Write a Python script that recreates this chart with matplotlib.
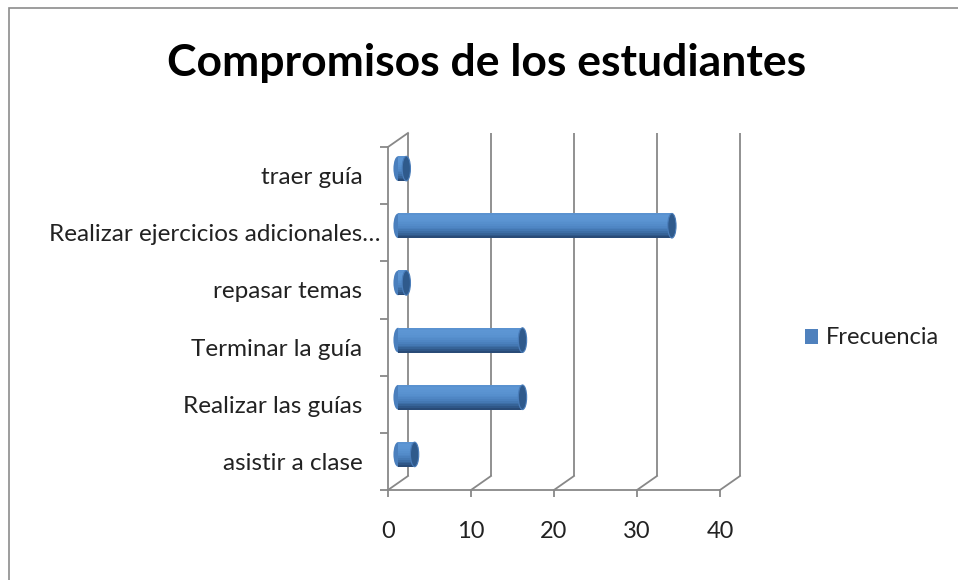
import matplotlib
matplotlib.use("Agg")
import matplotlib.pyplot as plt
import matplotlib.transforms as mtransforms
from matplotlib.patches import Ellipse, Patch, Rectangle
from matplotlib.lines import Line2D
import numpy as np

# ---- data ----
categories = ["asistir a clase", "Realizar las guías", "Terminar la guía",
              "repasar temas", "Realizar ejercicios adicionales…", "traer guía"]
frecuencia = [2, 15, 15, 1, 33, 1]
x_ticks = [0, 10, 20, 30, 40]
series_name = "Frecuencia"
title = "Compromisos de los estudiantes"

plt.rcParams['font.family'] = ['Lato', 'DejaVu Sans']

W, H = 958, 580
fig = plt.figure(figsize=(W / 100, H / 100), dpi=100)
fig.patch.set_facecolor('white')

# border (left & top visible)
fig.add_artist(Rectangle((9 / W, -0.1), 2, 1 - 8 / H + 0.1, transform=fig.transFigure,
                         fill=False, edgecolor='#8c8c8c', lw=1.2))

# front plane of the 3D plot
x0, x1, ytop, ybot = 388, 720, 147, 490
ax = fig.add_axes([x0 / W, 1 - ybot / H, (x1 - x0) / W, (ybot - ytop) / H])
ax.set_xlim(0, 40)
ax.set_ylim(-0.5, len(categories) - 0.5)
ax.patch.set_alpha(0)
for s in ['top', 'right']:
    ax.spines[s].set_visible(False)
grid_col = '#888888'
for s in ['left', 'bottom']:
    ax.spines[s].set_color(grid_col)
    ax.spines[s].set_linewidth(1.3)

DX, DY = 20, 14  # depth offset in pixels
back = mtransforms.offset_copy(ax.transData, fig, x=DX, y=DY, units='dots')
mid = mtransforms.offset_copy(ax.transData, fig, x=DX / 2, y=DY / 2, units='dots')

ylo, yhi = -0.5, len(categories) - 0.5
# back wall gridlines
ax.vlines(x_ticks, ylo, yhi, transform=back, color=grid_col, lw=1.3, clip_on=False)

# floor diagonals and left wall top diagonal (computed through the axes scale)
def diag(xv, yv):
    px, py = ax.transData.transform((xv, yv))
    fig.add_artist(Line2D([px, px + DX], [py, py + DY], transform=mtransforms.IdentityTransform(),
                          color=grid_col, lw=1.3))

for xv in x_ticks:
    diag(xv, ylo)
diag(0, yhi)

# cylinder bars
ypos = np.arange(len(categories))
bar_h = 0.43
body_cols = ['#294b77', '#2f5788', '#366397', '#3d6ea6', '#4478b3', '#4a80bd', '#4f86c4',
             '#538bc9', '#568fcd', '#5992d0', '#5b94d2', '#5c95d3', '#5d96d4', '#5a92d0']
n = len(body_cols)
for yv, v in zip(ypos, frecuencia):
    ax.add_patch(Ellipse((0, yv), 1.1, bar_h, transform=mid, facecolor='#4a7fbd',
                         edgecolor='none', zorder=2.9))
for i in range(n):
    off = -bar_h / 2 + bar_h * (i + 0.5) / n
    ax.barh(ypos + off, frecuencia, height=bar_h / n + 0.006, left=0, color=body_cols[i],
            edgecolor='none', transform=mid, zorder=3)
for yv, v in zip(ypos, frecuencia):
    ax.add_patch(Ellipse((v, yv), 1.0, bar_h, transform=mid, facecolor='#2f5a8c',
                         edgecolor='#4a7dba', lw=0.8, zorder=4))

# ticks
ax.set_xticks(x_ticks)
ax.set_xticklabels([str(t) for t in x_ticks])
ax.tick_params(axis='x', direction='out', length=5, width=1.3, color=grid_col,
               labelsize=17, pad=17, labelcolor='#222222')
ax.set_yticks(ypos)
ax.set_yticklabels(categories)
ax.tick_params(axis='y', which='major', length=0, labelsize=17.5, pad=18.5, labelcolor='#222222')
ax.set_yticks(np.arange(-0.5, len(categories), 1), minor=True)
ax.tick_params(axis='y', which='minor', direction='out', length=6, width=1.3, color=grid_col)
for lab in ax.get_yticklabels():
    if lab.get_text().endswith('…'):
        lab.set_transform(lab.get_transform() + mtransforms.ScaledTranslation(18 / 100, 0, fig.dpi_scale_trans))

# title
fig.text(487 / W, 1 - 63 / H, title, ha='center', va='center', fontsize=32, fontweight='bold',
         color='black')

# legend
fig.legend(handles=[Patch(facecolor='#4f81bd', edgecolor='none')], labels=[series_name],
           loc='center left', bbox_to_anchor=(805 / W, 1 - 338 / H), frameon=False,
           borderaxespad=0, borderpad=0,
           fontsize=17, handlelength=0.55, handleheight=0.6, handletextpad=0.35,
           labelcolor='#222222')

fig.savefig('out.png', dpi=100, facecolor='white')
